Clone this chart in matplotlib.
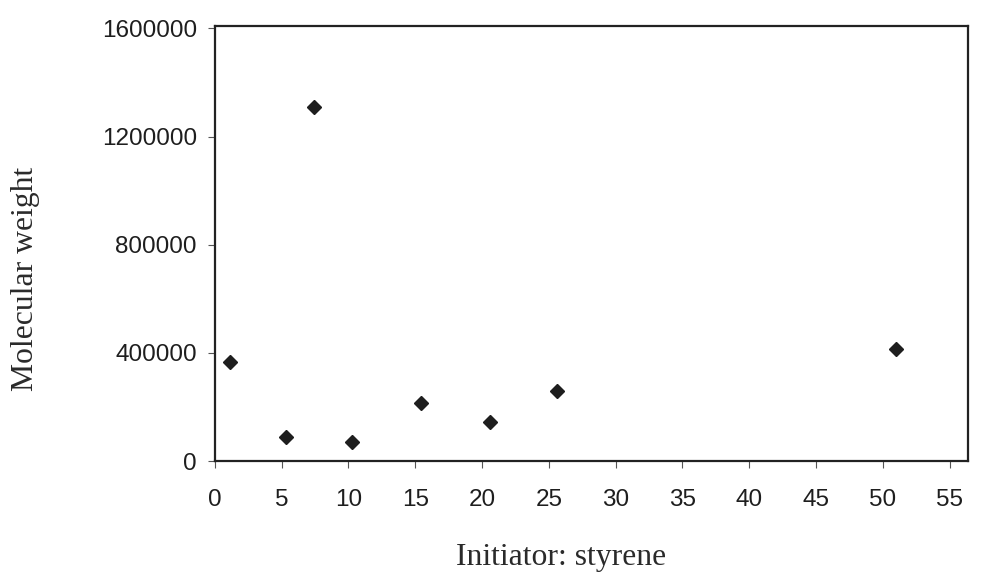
import matplotlib
matplotlib.use('Agg')
import matplotlib.pyplot as plt

# values
ratio = [1.1, 5.3, 7.4, 10.3, 15.4, 20.6, 25.6, 51.0]
mol_weight = [368000, 90000, 1311000, 70000, 215000, 146000, 258000, 415000]

xticks = list(range(0, 60, 5))
yticks = [0, 400000, 800000, 1200000, 1600000]

fig = plt.figure(figsize=(9.81, 5.72), dpi=100)
ax = fig.add_axes([0.219, 0.194, 0.768, 0.761])

ax.plot(ratio, mol_weight, ls='none', marker='D', ms=7, color='#1e1e1e')

ax.set_xlim(0, 56.4)
ax.set_ylim(0, 1610000)
ax.set_xticks(xticks)
ax.set_yticks(yticks)
ax.set_yticklabels([str(v) for v in yticks])

for s in ax.spines.values():
    s.set_linewidth(1.6)
    s.set_color('#222222')

ax.tick_params(direction='out', length=5, width=0.8, color='#555555',
               labelsize=17.5, labelcolor='#1e1e1e')
ax.tick_params(axis='x', pad=15)
ax.tick_params(axis='y', pad=8)
for lab in ax.get_xticklabels() + ax.get_yticklabels():
    lab.set_family('Liberation Sans')

ax.set_xlabel('Initiator: styrene', family='Liberation Serif', fontsize=22.8,
              color='#2a2a2a')
ax.set_ylabel('Molecular weight', family='Liberation Serif', fontsize=22.8,
              color='#2a2a2a')
# label positions in pixels of the 981x572 figure
ax.xaxis.set_label_coords(561 / 981, 1 - 558 / 572, transform=fig.transFigure)
ax.yaxis.set_label_coords(26 / 981, 1 - 279 / 572, transform=fig.transFigure)
ax.xaxis.label.set_va('center')
ax.yaxis.label.set_va('center')

fig.savefig('out.png', dpi=100)
